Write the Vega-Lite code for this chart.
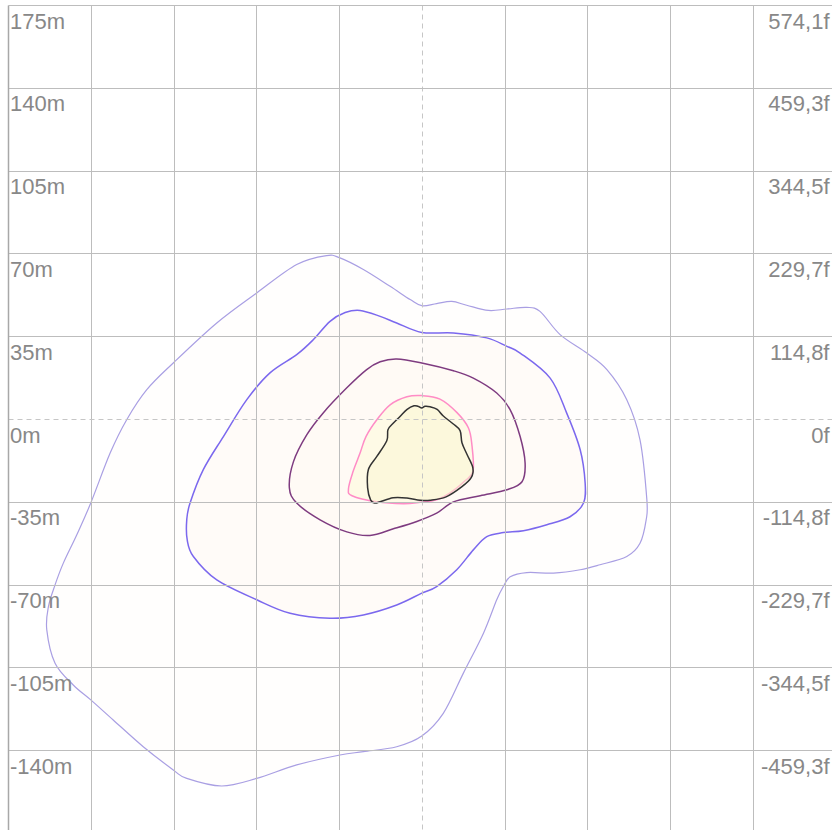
{
  "$schema": "https://vega.github.io/schema/vega-lite/v6.json",
  "width": 824,
  "height": 825,
  "autosize": {"type": "none"},
  "padding": {"left": 8, "top": 5, "right": 0, "bottom": 0},
  "background": "white",
  "config": {"view": {"stroke": null}},
  "datasets": {
    "contours": [
      {"c":1,"i":1,"x":-40.2,"y":69.1},{"c":1,"i":2,"x":-34.6,"y":68.1},{"c":1,"i":3,"x":-24.7,"y":63.2},{"c":1,"i":4,"x":-13.4,"y":56.1},{"c":1,"i":5,"x":-4.9,"y":50.5},{"c":1,"i":6,"x":0,"y":47.9},{"c":1,"i":7,"x":6.3,"y":48.8},{"c":1,"i":8,"x":12.7,"y":49.7},{"c":1,"i":9,"x":19.0,"y":48.1},{"c":1,"i":10,"x":28.2,"y":45.9},{"c":1,"i":11,"x":36.0,"y":46.5},{"c":1,"i":12,"x":44.4,"y":47.2},{"c":1,"i":13,"x":50.0,"y":45.5},{"c":1,"i":14,"x":58.5,"y":35.7},{"c":1,"i":15,"x":69.8,"y":27.9},{"c":1,"i":16,"x":78.3,"y":20.9},{"c":1,"i":17,"x":86.7,"y":8.2},{"c":1,"i":18,"x":92.3,"y":-8.8},{"c":1,"i":19,"x":95.2,"y":-34.1},{"c":1,"i":20,"x":94.9,"y":-42.6},{"c":1,"i":21,"x":92.3,"y":-52.5},{"c":1,"i":22,"x":86.7,"y":-58.1},{"c":1,"i":23,"x":75.4,"y":-61.6},{"c":1,"i":24,"x":67.0,"y":-63.7},{"c":1,"i":25,"x":55.7,"y":-65.1},{"c":1,"i":26,"x":44.4,"y":-64.9},{"c":1,"i":27,"x":37.4,"y":-66.7},{"c":1,"i":28,"x":34.5,"y":-70.8},{"c":1,"i":29,"x":31.7,"y":-76.4},{"c":1,"i":30,"x":26.1,"y":-90.5},{"c":1,"i":31,"x":17.6,"y":-107.4},{"c":1,"i":32,"x":9.1,"y":-124.4},{"c":1,"i":33,"x":0,"y":-134.0},{"c":1,"i":34,"x":-10.6,"y":-138.5},{"c":1,"i":35,"x":-24.7,"y":-140.6},{"c":1,"i":36,"x":-34.6,"y":-142.0},{"c":1,"i":37,"x":-52.9,"y":-146.2},{"c":1,"i":38,"x":-69.8,"y":-151.9},{"c":1,"i":39,"x":-84.6,"y":-155.1},{"c":1,"i":40,"x":-99.4,"y":-151.9},{"c":1,"i":41,"x":-105.1,"y":-148.3},{"c":1,"i":42,"x":-117.8,"y":-138.5},{"c":1,"i":43,"x":-130.5,"y":-127.2},{"c":1,"i":44,"x":-140.0,"y":-118.7},{"c":1,"i":45,"x":-147.4,"y":-112.4},{"c":1,"i":46,"x":-155.1,"y":-103.2},{"c":1,"i":47,"x":-158.6,"y":-89.1},{"c":1,"i":48,"x":-157.9,"y":-79.3},{"c":1,"i":49,"x":-155.1,"y":-70.1},{"c":1,"i":50,"x":-151.6,"y":-60.9},{"c":1,"i":51,"x":-145.9,"y":-48.9},{"c":1,"i":52,"x":-140.0,"y":-35.5},{"c":1,"i":53,"x":-131.8,"y":-14.4},{"c":1,"i":54,"x":-124.8,"y":-0.3},{"c":1,"i":55,"x":-116.3,"y":12.4},{"c":1,"i":56,"x":-105.1,"y":23.7},{"c":1,"i":57,"x":-86.7,"y":40.6},{"c":1,"i":58,"x":-69.8,"y":53.3},{"c":1,"i":59,"x":-52.9,"y":65.3},
      {"c":2,"i":1,"x":-26.1,"y":45.9},{"c":2,"i":2,"x":-17.6,"y":43.4},{"c":2,"i":3,"x":-10.6,"y":40.6},{"c":2,"i":4,"x":0,"y":36.6},{"c":2,"i":5,"x":13.4,"y":36.4},{"c":2,"i":6,"x":27.5,"y":34.3},{"c":2,"i":7,"x":36.0,"y":30.7},{"c":2,"i":8,"x":41.6,"y":27.9},{"c":2,"i":9,"x":54.3,"y":17.3},{"c":2,"i":10,"x":61.3,"y":2.5},{"c":2,"i":11,"x":67.0,"y":-13.0},{"c":2,"i":12,"x":69.1,"y":-27.1},{"c":2,"i":13,"x":68.4,"y":-35.5},{"c":2,"i":14,"x":62.7,"y":-41.3},{"c":2,"i":15,"x":52.9,"y":-44.7},{"c":2,"i":16,"x":43.0,"y":-47.2},{"c":2,"i":17,"x":34.5,"y":-48.0},{"c":2,"i":18,"x":27.5,"y":-49.7},{"c":2,"i":19,"x":21.8,"y":-55.3},{"c":2,"i":20,"x":14.8,"y":-63.7},{"c":2,"i":21,"x":6.3,"y":-70.8},{"c":2,"i":22,"x":0,"y":-73.6},{"c":2,"i":23,"x":-10.6,"y":-78.6},{"c":2,"i":24,"x":-24.7,"y":-82.8},{"c":2,"i":25,"x":-38.8,"y":-84.2},{"c":2,"i":26,"x":-55.7,"y":-82.1},{"c":2,"i":27,"x":-69.8,"y":-76.4},{"c":2,"i":28,"x":-86.7,"y":-68.0},{"c":2,"i":29,"x":-96.6,"y":-58.1},{"c":2,"i":30,"x":-99.2,"y":-51.1},{"c":2,"i":31,"x":-99.4,"y":-42.6},{"c":2,"i":32,"x":-98.0,"y":-35.5},{"c":2,"i":33,"x":-92.4,"y":-21.4},{"c":2,"i":34,"x":-83.9,"y":-7.4},{"c":2,"i":35,"x":-74.0,"y":8.2},{"c":2,"i":36,"x":-64.2,"y":19.5},{"c":2,"i":37,"x":-52.9,"y":27.2},{"c":2,"i":38,"x":-45.9,"y":33.5},{"c":2,"i":39,"x":-38.8,"y":41.3},{"c":2,"i":40,"x":-32.4,"y":45.0},
      {"c":3,"i":1,"x":-10.6,"y":25.4},{"c":3,"i":2,"x":0,"y":23.7},{"c":3,"i":3,"x":13.4,"y":20.4},{"c":3,"i":4,"x":21.8,"y":17.3},{"c":3,"i":5,"x":31.7,"y":11.0},{"c":3,"i":6,"x":37.4,"y":3.9},{"c":3,"i":7,"x":41.6,"y":-7.4},{"c":3,"i":8,"x":43.7,"y":-18.6},{"c":3,"i":9,"x":42.4,"y":-26.5},{"c":3,"i":10,"x":36.0,"y":-29.9},{"c":3,"i":11,"x":24.7,"y":-32.4},{"c":3,"i":12,"x":13.4,"y":-35.0},{"c":3,"i":13,"x":6.3,"y":-39.8},{"c":3,"i":14,"x":-2.1,"y":-43.3},{"c":3,"i":15,"x":-12.0,"y":-46.4},{"c":3,"i":16,"x":-21.9,"y":-49.2},{"c":3,"i":17,"x":-31.7,"y":-47.7},{"c":3,"i":18,"x":-43.0,"y":-42.6},{"c":3,"i":19,"x":-52.9,"y":-35.5},{"c":3,"i":20,"x":-56.0,"y":-29.1},{"c":3,"i":21,"x":-54.3,"y":-18.1},{"c":3,"i":22,"x":-48.6,"y":-6.6},{"c":3,"i":23,"x":-41.6,"y":2.7},{"c":3,"i":24,"x":-31.7,"y":13.2},{"c":3,"i":25,"x":-23.3,"y":20.9},{"c":3,"i":26,"x":-17.6,"y":24.2},
      {"c":4,"i":1,"x":0,"y":9.9},{"c":4,"i":2,"x":7.7,"y":8.4},{"c":4,"i":3,"x":14.9,"y":2.7},{"c":4,"i":4,"x":19.7,"y":-3.7},{"c":4,"i":5,"x":21.2,"y":-10.9},{"c":4,"i":6,"x":21.7,"y":-21.9},{"c":4,"i":7,"x":18.3,"y":-26.1},{"c":4,"i":8,"x":12.0,"y":-31.2},{"c":4,"i":9,"x":6.3,"y":-34.1},{"c":4,"i":10,"x":-0.7,"y":-35.2},{"c":4,"i":11,"x":-7.8,"y":-35.8},{"c":4,"i":12,"x":-19.0,"y":-35.0},{"c":4,"i":13,"x":-29.5,"y":-32.4},{"c":4,"i":14,"x":-31.0,"y":-29.5},{"c":4,"i":15,"x":-29.1,"y":-22.3},{"c":4,"i":16,"x":-26.1,"y":-14.4},{"c":4,"i":17,"x":-23.6,"y":-7.4},{"c":4,"i":18,"x":-19.0,"y":-0.3},{"c":4,"i":19,"x":-13.4,"y":6.0},{"c":4,"i":20,"x":-6.3,"y":9.4},
      {"c":5,"i":1,"x":-3.3,"y":5.6},{"c":5,"i":2,"x":-1.6,"y":5.4},{"c":5,"i":3,"x":0,"y":4.7},{"c":5,"i":4,"x":1.4,"y":5.4},{"c":5,"i":5,"x":3.5,"y":5.2},{"c":5,"i":6,"x":6.5,"y":4.1},{"c":5,"i":7,"x":9.0,"y":1.4},{"c":5,"i":8,"x":13.2,"y":-2.0},{"c":5,"i":9,"x":16.2,"y":-4.9},{"c":5,"i":10,"x":17.0,"y":-10.0},{"c":5,"i":11,"x":19.2,"y":-15.1},{"c":5,"i":12,"x":21.6,"y":-20.6},{"c":5,"i":13,"x":20.9,"y":-24.8},{"c":5,"i":14,"x":17.0,"y":-28.6},{"c":5,"i":15,"x":10.3,"y":-32.9},{"c":5,"i":16,"x":3.5,"y":-34.3},{"c":5,"i":17,"x":-0.7,"y":-34.3},{"c":5,"i":18,"x":-6.3,"y":-33.4},{"c":5,"i":19,"x":-12.1,"y":-33.3},{"c":5,"i":20,"x":-17.6,"y":-35.0},{"c":5,"i":21,"x":-19.8,"y":-35.5},{"c":5,"i":22,"x":-21.6,"y":-34.3},{"c":5,"i":23,"x":-22.9,"y":-29.1},{"c":5,"i":24,"x":-22.6,"y":-21.4},{"c":5,"i":25,"x":-19.0,"y":-15.8},{"c":5,"i":26,"x":-14.8,"y":-9.2},{"c":5,"i":27,"x":-14.3,"y":-4.5},{"c":5,"i":28,"x":-12.0,"y":-1.7},{"c":5,"i":29,"x":-9.2,"y":1.1},{"c":5,"i":30,"x":-6.2,"y":4.1}
    ]
  },
  "data": {"name": "contours"},
  "layer": [
    {
      "transform": [{"filter": "datum.c == 1"}],
      "mark": {"type": "line", "interpolate": "cardinal-closed", "stroke": "#a99fe3", "strokeWidth": 1.2, "fill": "#fffdfb", "fillOpacity": 0.5, "clip": true},
      "encoding": {
        "x": {"field": "x", "type": "quantitative", "scale": {"domain": [-175, 173.5], "nice": false, "zero": false},
          "axis": {"values": [-140, -105, -70, -35, 0, 35, 70, 105, 140], "labels": false, "ticks": false, "domain": false, "grid": true, "title": null, "zindex": 1,
            "gridColor": {"condition": {"test": "datum.value === 0", "value": "#c6c6c6"}, "value": "#bdbdbd"},
            "gridDash": {"condition": {"test": "datum.value === 0", "value": [5, 4]}, "value": []}}},
        "y": {"field": "y", "type": "quantitative", "scale": {"domain": [-173.7, 175], "nice": false, "zero": false},
          "axis": {"orient": "left", "values": [-140, -105, -70, -35, 0, 35, 70, 105, 140, 175], "labelExpr": "datum.value + 'm'", "labelAlign": "left", "labelBaseline": "alphabetic", "labelPadding": -1.5, "labelOffset": 23, "ticks": false, "tickSize": 0, "domain": true, "domainColor": "#a8a8a8", "domainWidth": 1.5, "grid": true, "title": null, "labelFont": "Liberation Sans", "labelFontSize": 22, "labelColor": "#888888", "labelOverlap": false, "labelBound": false, "labelFlush": false, "zindex": 1,
            "gridColor": {"condition": {"test": "datum.value === 0", "value": "#c6c6c6"}, "value": "#bdbdbd"},
            "gridDash": {"condition": {"test": "datum.value === 0", "value": [5, 4]}, "value": []}}},
        "order": {"field": "i", "type": "quantitative"}
      }
    },
    {
      "transform": [{"filter": "datum.c == 2"}],
      "mark": {"type": "line", "interpolate": "cardinal-closed", "stroke": "#7b68ee", "strokeWidth": 1.5, "fill": "#fff8f3", "fillOpacity": 0.5, "clip": true},
      "encoding": {
        "x": {"field": "x", "type": "quantitative", "scale": {"domain": [-175, 173.5], "nice": false, "zero": false},
          "axis": {"values": [-140, -105, -70, -35, 0, 35, 70, 105, 140], "labels": false, "ticks": false, "domain": false, "grid": true, "title": null, "zindex": 1,
            "gridColor": {"condition": {"test": "datum.value === 0", "value": "#c6c6c6"}, "value": "#bdbdbd"},
            "gridDash": {"condition": {"test": "datum.value === 0", "value": [5, 4]}, "value": []}}},
        "y": {"field": "y", "type": "quantitative", "scale": {"domain": [-173.7, 175], "nice": false, "zero": false},
          "axis": {"orient": "right", "values": [-140, -105, -70, -35, 0, 35, 70, 105, 140, 175], "labelExpr": "datum.value === 0 ? '0f' : (datum.value < 0 ? '-' : '') + replace(format(abs(datum.value) * 3.28084, '.1f'), '.', ',') + 'f'", "labelAlign": "right", "labelBaseline": "alphabetic", "labelPadding": -3, "labelOffset": 23, "ticks": false, "tickSize": 0, "domain": false, "grid": false, "title": null, "labelFont": "Liberation Sans", "labelFontSize": 22, "labelColor": "#888888", "labelOverlap": false, "labelBound": false, "labelFlush": false, "zindex": 1}},
        "order": {"field": "i", "type": "quantitative"}
      }
    },
    {
      "transform": [{"filter": "datum.c == 3"}],
      "mark": {"type": "line", "interpolate": "cardinal-closed", "stroke": "#7e3b80", "strokeWidth": 1.5, "fill": "#fff9f2", "fillOpacity": 0.5, "clip": true},
      "encoding": {
        "x": {"field": "x", "type": "quantitative", "scale": {"domain": [-175, 173.5], "nice": false, "zero": false},
          "axis": {"values": [-140, -105, -70, -35, 0, 35, 70, 105, 140], "labels": false, "ticks": false, "domain": false, "grid": true, "title": null, "zindex": 1,
            "gridColor": {"condition": {"test": "datum.value === 0", "value": "#c6c6c6"}, "value": "#bdbdbd"},
            "gridDash": {"condition": {"test": "datum.value === 0", "value": [5, 4]}, "value": []}}},
        "y": {"field": "y", "type": "quantitative", "scale": {"domain": [-173.7, 175], "nice": false, "zero": false}, "axis": null},
        "order": {"field": "i", "type": "quantitative"}
      }
    },
    {
      "transform": [{"filter": "datum.c == 4"}],
      "mark": {"type": "line", "interpolate": "cardinal-closed", "stroke": "#ff8cc6", "strokeWidth": 1.5, "fill": "#fdfad7", "fillOpacity": 0.5, "clip": true},
      "encoding": {
        "x": {"field": "x", "type": "quantitative", "scale": {"domain": [-175, 173.5], "nice": false, "zero": false},
          "axis": {"values": [-140, -105, -70, -35, 0, 35, 70, 105, 140], "labels": false, "ticks": false, "domain": false, "grid": true, "title": null, "zindex": 1,
            "gridColor": {"condition": {"test": "datum.value === 0", "value": "#c6c6c6"}, "value": "#bdbdbd"},
            "gridDash": {"condition": {"test": "datum.value === 0", "value": [5, 4]}, "value": []}}},
        "y": {"field": "y", "type": "quantitative", "scale": {"domain": [-173.7, 175], "nice": false, "zero": false}, "axis": null},
        "order": {"field": "i", "type": "quantitative"}
      }
    },
    {
      "transform": [{"filter": "datum.c == 5"}],
      "mark": {"type": "line", "interpolate": "cardinal-closed", "stroke": "#333333", "strokeWidth": 1.5, "fill": "#faf6d2", "fillOpacity": 0.5, "clip": true},
      "encoding": {
        "x": {"field": "x", "type": "quantitative", "scale": {"domain": [-175, 173.5], "nice": false, "zero": false},
          "axis": {"values": [-140, -105, -70, -35, 0, 35, 70, 105, 140], "labels": false, "ticks": false, "domain": false, "grid": true, "title": null, "zindex": 1,
            "gridColor": {"condition": {"test": "datum.value === 0", "value": "#c6c6c6"}, "value": "#bdbdbd"},
            "gridDash": {"condition": {"test": "datum.value === 0", "value": [5, 4]}, "value": []}}},
        "y": {"field": "y", "type": "quantitative", "scale": {"domain": [-173.7, 175], "nice": false, "zero": false}, "axis": null},
        "order": {"field": "i", "type": "quantitative"}
      }
    }
  ],
  "resolve": {"axis": {"y": "independent"}}
}
